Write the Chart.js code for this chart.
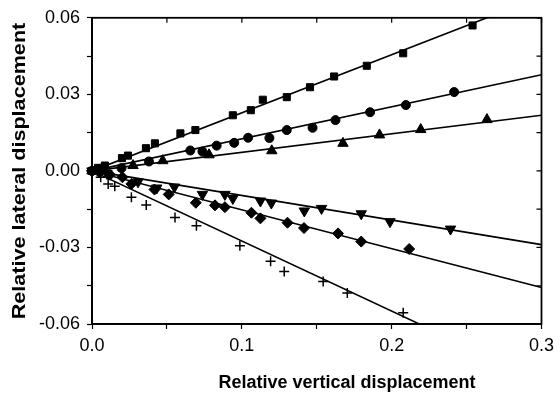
<!DOCTYPE html>
<html>
<head>
<meta charset="utf-8">
<script src="https://cdn.jsdelivr.net/npm/chart.js@4"></script>
<style>
  html, body { margin: 0; padding: 0; background: #fff; }
  #wrap { width: 560px; height: 394px; }
</style>
</head>
<body>
<div id="wrap"><canvas id="chart" width="560" height="394"></canvas></div>
<script>
// values
const squaresX = [0, 0.004, 0.0086, 0.020, 0.024, 0.036, 0.042, 0.059, 0.069, 0.094, 0.106, 0.114, 0.130, 0.1455, 0.1616, 0.1834, 0.2077, 0.254];
const squaresY = [0, 0.0012, 0.0021, 0.005, 0.006, 0.0089, 0.0108, 0.0147, 0.016, 0.0218, 0.0238, 0.0279, 0.0289, 0.0328, 0.037, 0.0412, 0.0461, 0.057];
const circlesX = [0, 0.006, 0.0197, 0.038, 0.0656, 0.0737, 0.0832, 0.0949, 0.1042, 0.1184, 0.13, 0.1472, 0.1625, 0.1856, 0.2095, 0.2417];
const circlesY = [0, 0.0008, 0.0011, 0.0037, 0.008, 0.0076, 0.0099, 0.011, 0.013, 0.0129, 0.016, 0.0169, 0.0199, 0.023, 0.0258, 0.0309];
const trianglesX = [0, 0.008, 0.0274, 0.0472, 0.0781, 0.12, 0.1675, 0.1919, 0.2194, 0.2636];
const trianglesY = [0, 0.0006, 0.0021, 0.004, 0.0063, 0.0079, 0.0108, 0.0141, 0.0162, 0.0201];
const downX = [0, 0.01, 0.0307, 0.0432, 0.055, 0.0737, 0.0887, 0.094, 0.1124, 0.1197, 0.1417, 0.1532, 0.1797, 0.1989, 0.2393];
const downY = [0, -0.001, -0.0043, -0.0067, -0.0063, -0.0092, -0.0092, -0.0108, -0.0118, -0.0126, -0.0157, -0.0147, -0.0168, -0.0199, -0.0228];
const diamondsX = [0, 0.005, 0.012, 0.0203, 0.0263, 0.0417, 0.0512, 0.0693, 0.0821, 0.0887, 0.1064, 0.1124, 0.1305, 0.1415, 0.1642, 0.1797, 0.2117];
const diamondsY = [0, -0.0006, -0.0015, -0.0025, -0.0051, -0.0073, -0.0092, -0.0125, -0.0135, -0.0142, -0.0164, -0.0186, -0.0203, -0.0224, -0.0245, -0.0277, -0.0306];
const crossesX = [0.0058, 0.0108, 0.0152, 0.0263, 0.0362, 0.0554, 0.0697, 0.0987, 0.1192, 0.1283, 0.1543, 0.1704, 0.2077];
const crossesY = [-0.0025, -0.0051, -0.006, -0.0103, -0.0134, -0.0183, -0.0215, -0.0293, -0.0354, -0.0394, -0.0433, -0.0479, -0.0556];

// fitted lines: start at origin, y value where each reaches x = 0.3
const fitEndX = 0.3;
const fitEndY = [0.0683, 0.0377, 0.0218, -0.0289, -0.0457, -0.0824];

const xTitle = 'Relative vertical displacement';
const yTitle = 'Relative lateral displacement';
const fontFamily = '"Liberation Sans", Arial, sans-serif';

const pts = (xs, ys) => xs.map((x, i) => ({ x, y: ys[i] }));

const markers = [
  { data: pts(squaresX, squaresY), pointStyle: 'rect', pointRadius: 5 },
  { data: pts(circlesX, circlesY), pointStyle: 'circle', pointRadius: 4.5 },
  { data: pts(trianglesX, trianglesY), pointStyle: 'triangle', pointRadius: 6 },
  { data: pts(downX, downY), pointStyle: 'triangle', pointRadius: 6, rotation: 180 },
  { data: pts(diamondsX, diamondsY), pointStyle: 'rectRot', pointRadius: 5.5 },
  { data: pts(crossesX, crossesY), pointStyle: 'cross', pointRadius: 5, pointBorderWidth: 1.5 },
].map(d => Object.assign({
  type: 'scatter',
  backgroundColor: '#000',
  borderColor: '#000',
  pointBorderWidth: 1,
  clip: 8,
}, d));

const fits = fitEndY.map(y => ({
  type: 'line',
  data: [{ x: 0, y: 0 }, { x: fitEndX, y }],
  borderColor: '#000',
  borderWidth: 1.6,
  pointRadius: 0,
  fill: false,
}));

// frame, inward ticks on top/right, and axis titles
const framePlugin = {
  id: 'frame',
  afterDraw(chart) {
    const { ctx, chartArea: a, scales } = chart;
    ctx.save();
    ctx.strokeStyle = '#000';
    ctx.lineWidth = 1.8;
    ctx.strokeRect(a.left, a.top, a.right - a.left, a.bottom - a.top);
    ctx.lineWidth = 1.2;
    ctx.beginPath();
    scales.x.ticks.forEach(t => {
      const px = scales.x.getPixelForValue(t.value);
      ctx.moveTo(px, a.top);
      ctx.lineTo(px, a.top + 5);
    });
    scales.y.ticks.forEach(t => {
      const py = scales.y.getPixelForValue(t.value);
      ctx.moveTo(a.right, py);
      ctx.lineTo(a.right - 5, py);
    });
    ctx.stroke();

    ctx.fillStyle = '#000';
    ctx.font = 'bold 18px ' + fontFamily;
    ctx.textAlign = 'center';
    ctx.textBaseline = 'middle';
    ctx.fillText(xTitle, 347, 383);
    ctx.translate(20, 171);
    ctx.rotate(-Math.PI / 2);
    ctx.scale(1.2, 1);
    ctx.fillText(yTitle, 0, 0);
    ctx.restore();
  }
};

const near = (v, step) => Math.abs(v / step - Math.round(v / step)) < 1e-6;

new Chart(document.getElementById('chart'), {
  data: { datasets: [...fits, ...markers] },
  options: {
    responsive: false,
    animation: false,
    layout: { padding: { top: 15, right: 15, left: 0, bottom: 0 } },
    plugins: { legend: { display: false }, tooltip: { enabled: false } },
    scales: {
      x: {
        type: 'linear',
        min: 0, max: 0.3,
        afterFit: s => { s.height = 70; },
        grid: { drawOnChartArea: false, tickLength: 5, color: '#000', tickWidth: 1.2 },
        border: { color: '#000', width: 1.8 },
        ticks: {
          stepSize: 0.05, autoSkip: false, maxRotation: 0, padding: 6,
          color: '#000', font: { family: fontFamily, size: 18 },
          callback: v => near(v, 0.1) ? v.toFixed(1) : '',
        },
      },
      y: {
        type: 'linear',
        min: -0.06, max: 0.06,
        afterFit: s => { s.width = 92; },
        grid: { drawOnChartArea: false, tickLength: 5, color: '#000', tickWidth: 1.2 },
        border: { color: '#000', width: 1.8 },
        ticks: {
          stepSize: 0.015, autoSkip: false, padding: 7,
          color: '#000', font: { family: fontFamily, size: 18 },
          callback: v => near(v, 0.03) ? (Math.abs(v) < 1e-9 ? '0.00' : v.toFixed(2)) : '',
        },
      },
    },
  },
  plugins: [framePlugin],
});
</script>
</body>
</html>
